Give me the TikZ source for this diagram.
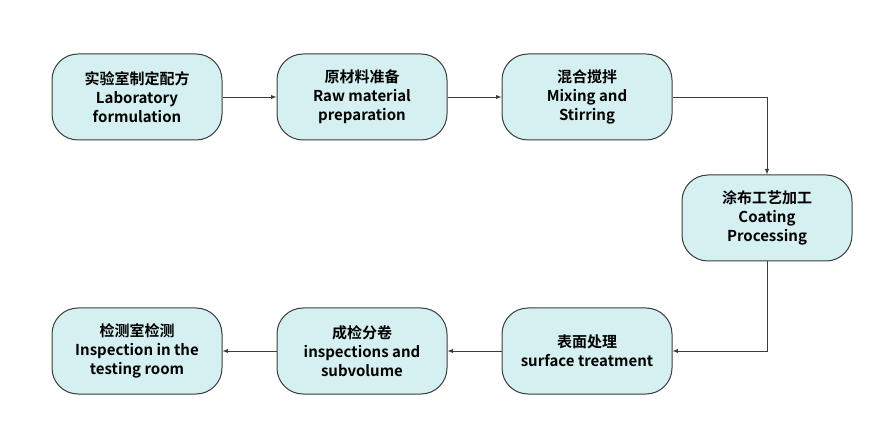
\documentclass[tikz,border=0pt]{standalone}
\usepackage{fontspec}
\setmainfont{Noto Sans CJK SC}[BoldFont={Noto Sans CJK SC Bold}]
\usetikzlibrary{positioning}
\definecolor{boxfill}{RGB}{212,240,241}
\definecolor{boxline}{RGB}{60,60,60}
\tikzset{
  stage/.style={draw=boxline,fill=boxfill,line width=1pt,rounded corners=26pt,
    minimum width=170pt,minimum height=86pt,align=center,
    font=\fontsize{15}{19}\selectfont\bfseries},
  flow/.style={draw=boxline,line width=0.9pt,-latex}
}
\begin{document}
\begin{tikzpicture}[x=1pt,y=-1pt]
\useasboundingbox (0,0) rectangle (873,438);
\node[stage] (lab) at (137,97) {实验室制定配方\\Laboratory\\formulation};
\node[stage] (raw) at (362,97) {原材料准备\\Raw material\\preparation};
\node[stage] (mix) at (587,97) {混合搅拌\\Mixing and\\Stirring};
\node[stage] (coat) at (767,218) {涂布工艺加工\\Coating\\Processing};
\node[stage] (surf) at (587,351) {表面处理\\surface treatment};
\node[stage] (insp) at (362,351) {成检分卷\\inspections and\\subvolume};
\node[stage] (test) at (137,351) {检测室检测\\Inspection in the\\testing room};
\draw[flow] (lab) -- (raw);
\draw[flow] (raw) -- (mix);
\draw[flow] (mix) -| (coat);
\draw[flow] (coat) |- (surf);
\draw[flow] (surf) -- (insp);
\draw[flow] (insp) -- (test);
\end{tikzpicture}
\end{document}
